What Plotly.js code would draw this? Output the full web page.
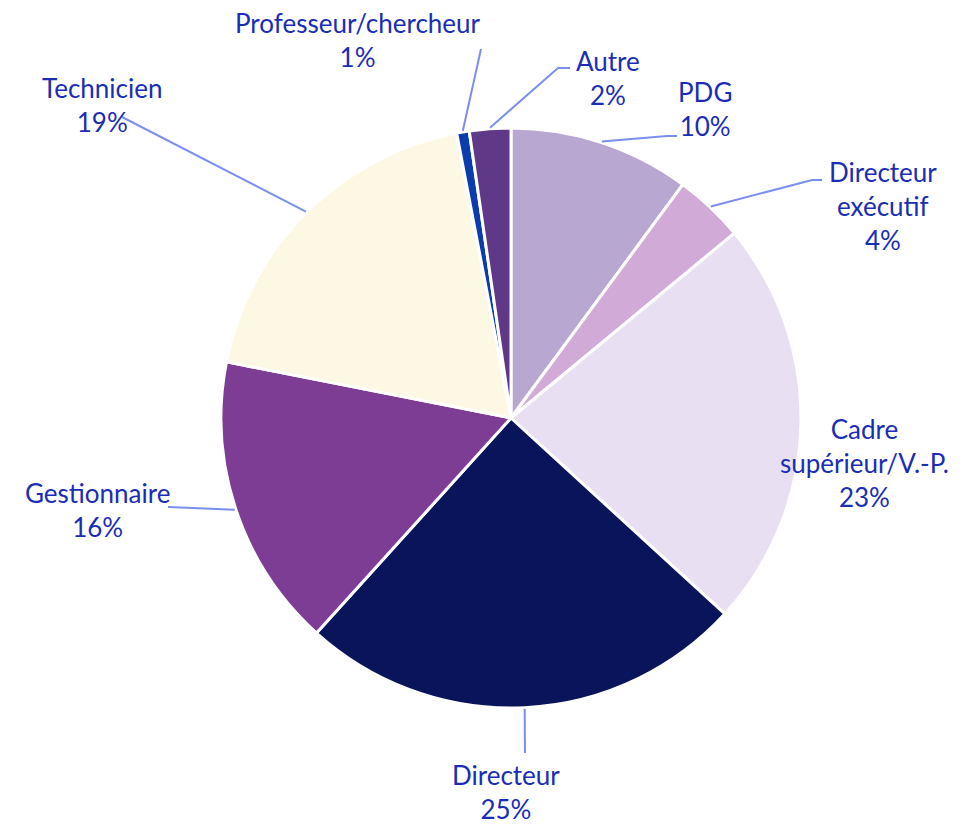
<!DOCTYPE html>
<html>
<head>
<meta charset="utf-8">
<script src="https://cdn.plot.ly/plotly-3.0.1.min.js"></script>
<style>html,body{margin:0;padding:0;background:#fff;}#chart{width:965px;height:824px;}</style>
</head>
<body>
<div id="chart"></div>
<script>
// ---- Data ----
const categories = ["PDG", "Directeur exécutif", "Cadre supérieur/V.-P.", "Directeur", "Gestionnaire", "Technicien", "Professeur/chercheur", "Autre"];
const values = [10.1, 3.9, 22.8, 24.9, 16.4, 18.9, 0.7, 2.3];
const displayLabels = ["PDG", "Directeur<br>exécutif", "Cadre<br>supérieur/V.-P.", "Directeur", "Gestionnaire", "Technicien", "Professeur/chercheur", "Autre"];

// ---- Style / layout config ----
const colors = ["#b8a7d1", "#d1aad8", "#e8e0f2", "#0a145a", "#7e3d94", "#fdf8e3", "#0a3cad", "#5f3888"];
const W = 965, H = 824;
const CX = 511, CY = 418, R = 290;
// label block centres (pixels)
const labelPos = [[705,109],[883,206],[864,463],[506,792],[97,510],[102,105],[358,40],[608,78]];
// leader line label-side points (pixels); null = no leader
const leaderPts = [
  [[667,136],[677,136]],
  [[812,180],[822,180]],
  null,
  [[525,753]],
  [[168,507]],
  [[122,117]],
  [[481,49]],
  [[558,68],[570,68]]
];

const px = x => x / W;
const py = y => 1 - y / H;
const total = values.reduce((a,b)=>a+b,0);

const trace = {
  type: 'pie',
  labels: categories,
  values: values,
  sort: false,
  direction: 'clockwise',
  rotation: 0,
  textinfo: 'none',
  hoverinfo: 'label+percent',
  marker: {colors: colors, line: {color: '#ffffff', width: 3}},
  domain: {x: [px(CX - R), px(CX + R)], y: [py(CY + R), py(CY - R)]},
  showlegend: false
};

const annotations = [];
const shapes = [];
let cum = 0;
values.forEach((v, i) => {
  const mid = (cum + v / 2) / total * 2 * Math.PI;
  cum += v;
  const pct = Math.round(v / total * 100) + '%';
  annotations.push({
    x: px(labelPos[i][0]), y: py(labelPos[i][1]), xref: 'paper', yref: 'paper',
    xanchor: 'center', yanchor: 'middle', showarrow: false,
    text: displayLabels[i] + '<br>' + pct,
    font: {family: 'Lato, "Open Sans", sans-serif', size: 26, color: '#1a2db5'}
  });
  if (leaderPts[i]) {
    const sx = CX + (R + 1) * Math.sin(mid), sy = CY - (R + 1) * Math.cos(mid);
    let path = 'M ' + px(sx) + ' ' + py(sy);
    leaderPts[i].forEach(p => { path += ' L ' + px(p[0]) + ' ' + py(p[1]); });
    shapes.push({type: 'path', xref: 'paper', yref: 'paper', path: path,
      line: {color: '#7b8ff0', width: 2}});
  }
});

const layout = {
  width: W, height: H,
  margin: {l: 0, r: 0, t: 0, b: 0},
  paper_bgcolor: '#ffffff',
  showlegend: false,
  annotations: annotations,
  shapes: shapes
};

Plotly.newPlot('chart', [trace], layout, {displayModeBar: false, staticPlot: true});
</script>
</body>
</html>
